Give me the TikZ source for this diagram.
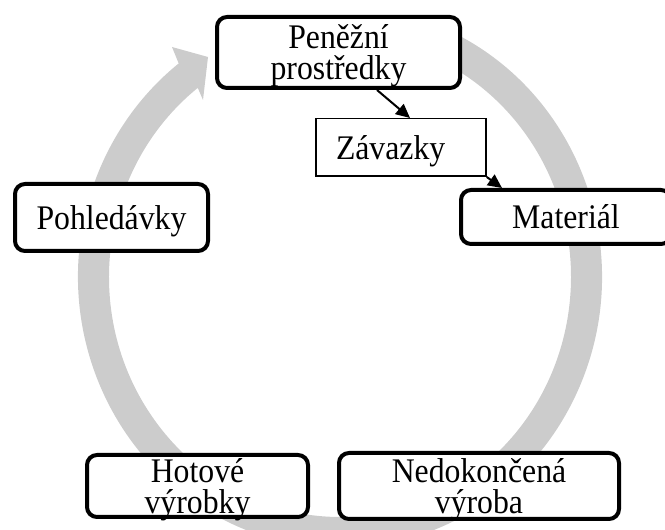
\documentclass[tikz,border=0pt]{standalone}
\usepackage{fontspec}
\setmainfont[FakeStretch=0.92]{Liberation Serif}
\usetikzlibrary{arrows.meta,calc}
\definecolor{ringgray}{RGB}{204,204,204}

\begin{document}
\begin{tikzpicture}[x=1pt, y=1pt,
font=\fontsize{34.5}{31}\selectfont,
box/.style={shape=rectangle, draw, line width=4pt, rounded corners=10pt, fill=white, align=center, inner sep=0pt, text depth=0pt},
thinbox/.style={shape=rectangle, draw, line width=1.5pt, fill=white, inner sep=0pt, inner xsep=20pt, text width=130pt, align=left, text depth=0pt},
link/.style={-{Triangle[length=14pt, width=13pt]}, line width=2pt}]
\useasboundingbox (0,0) rectangle (665,530);
\clip (0,0) rectangle (665,530);
\coordinate (C) at (340,253);
\fill[ringgray] ($(C)+(65:262 and 271)$) arc[start angle=65, end angle=-232, x radius=262, y radius=271]
-- ($(C)+(-168,230)$) -- ($(C)+(-132,220)$) -- ($(C)+(-137,177)$)
-- ($(C)+(-232:231 and 240)$) arc[start angle=-232, end angle=65, x radius=231, y radius=240] -- cycle;
\node (penize) [box, minimum width=243pt, minimum height=71pt] at (338.5,477.5) {Peněžní\\prostředky};
\node (zavazky) [thinbox, minimum height=57.5pt] at (401,382.5) {Závazky};
\node (material) [box, minimum width=210pt, minimum height=54pt] at (566,313) {Materiál};
\node (pohledavky) [box, minimum width=193pt, minimum height=67pt] at (111.5,312.5) {Pohledávky};
\node (vyrobky) [box, minimum width=221pt, minimum height=62pt] at (197.5,44) {Hotové\\výrobky};
\node (vyroba) [box, minimum width=280pt, minimum height=66pt] at (479,44) {Nedokončená\\výroba};
\draw [link] ([xshift=38.5pt]penize.south) -- ([xshift=9pt]zavazky.north);
\draw [link] (zavazky.south east) -- ([xshift=43pt]material.north west);
\end{tikzpicture}
\end{document}
